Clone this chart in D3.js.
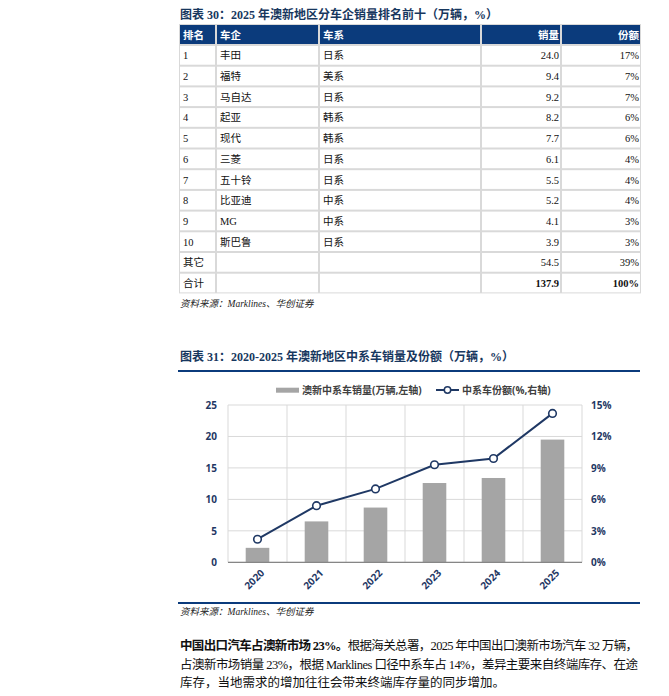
<!DOCTYPE html>
<html>
<head>
<meta charset="utf-8">
<script src="https://cdn.jsdelivr.net/npm/d3@7"></script>
<style>
  body { margin: 0; background: #fff; }
  svg { display: block; }
  .serif { font-family: "Liberation Serif", "Noto Sans CJK SC", serif; }
  .sans { font-family: "Open Sans", "Noto Sans CJK SC", sans-serif; }
</style>
</head>
<body>
<div id="page"></div>
<script>
// Table 30 data
var ranks = ["1", "2", "3", "4", "5", "6", "7", "8", "9", "10", "其它", "合计"];
var makers = ["丰田", "福特", "马自达", "起亚", "现代", "三菱", "五十铃", "比亚迪", "MG", "斯巴鲁", "", ""];
var origins = ["日系", "美系", "日系", "韩系", "韩系", "日系", "日系", "中系", "中系", "日系", "", ""];
var sales = ["24.0", "9.4", "9.2", "8.2", "7.7", "6.1", "5.5", "5.2", "4.1", "3.9", "54.5", "137.9"];
var shares = ["17%", "7%", "7%", "6%", "6%", "4%", "4%", "4%", "3%", "3%", "39%", "100%"];
var headers = ["排名", "车企", "车系", "销量", "份额"];

// Chart 31 data
var years = ["2020", "2021", "2022", "2023", "2024", "2025"];
var salesCn = [2.3, 6.5, 8.7, 12.6, 13.4, 19.5];   // 万辆, left axis
var shareCn = [2.2, 5.4, 7.0, 9.3, 9.9, 14.2];     // %, right axis
var leftTicks = [0, 5, 10, 15, 20, 25];
var rightTicks = [0, 3, 6, 9, 12, 15];

var paragraph = [
  { bold: "中国出口汽车占澳新市场 23%。", rest: "根据海关总署，2025 年中国出口澳新市场汽车 32 万辆，", justify: true },
  { bold: "", rest: "占澳新市场销量 23%，根据 Marklines 口径中系车占 14%，差异主要来自终端库存、在途", justify: true },
  { bold: "", rest: "库存，当地需求的增加往往会带来终端库存量的同步增加。", justify: false }
];

var navy = "#0b3b7c";
var axisBlue = "#1f3864";
var W = 669, H = 696;

var svg = d3.select("#page").append("svg")
    .attr("width", W)
    .attr("height", H);

svg.append("rect").attr("width", W).attr("height", H).attr("fill", "#fff");

// ---------- Table ----------
svg.append("text")
    .attr("class", "serif")
    .attr("x", 180)
    .attr("y", 19)
    .attr("font-size", 12)
    .attr("font-weight", "bold")
    .attr("fill", "#17375e")
    .text("图表 30：2025 年澳新地区分车企销量排名前十（万辆，%）");

var colEdges = [179, 216, 319, 481, 561, 641];
var tableTop = 24, headH = 21, rowH = 20.7;
var nRows = ranks.length;
var tableBottom = tableTop + headH + nRows * rowH;

svg.append("rect")
    .attr("x", colEdges[0])
    .attr("y", tableTop)
    .attr("width", colEdges[5] - colEdges[0])
    .attr("height", tableBottom - tableTop)
    .attr("fill", "#d9d9d9");

var table = svg.append("g").attr("class", "serif");

// header row
headers.forEach(function(h, i) {
  table.append("rect")
      .attr("x", colEdges[i] + 1)
      .attr("y", tableTop + 1)
      .attr("width", colEdges[i + 1] - colEdges[i] - 2)
      .attr("height", headH - 2)
      .attr("fill", navy);
  var right = i >= 3;
  table.append("text")
      .attr("x", right ? colEdges[i + 1] - 2 : colEdges[i] + 4)
      .attr("y", tableTop + headH / 2 + 4)
      .attr("text-anchor", right ? "end" : "start")
      .attr("font-size", 10.5)
      .attr("font-weight", "bold")
      .attr("fill", "#fff")
      .text(h);
});

var cols = [ranks, makers, origins, sales, shares];
for (var r = 0; r < nRows; r++) {
  var y0 = tableTop + headH + r * rowH;
  cols.forEach(function(col, i) {
    table.append("rect")
        .attr("x", colEdges[i] + 1)
        .attr("y", y0 + 1)
        .attr("width", colEdges[i + 1] - colEdges[i] - 2)
        .attr("height", rowH - 2)
        .attr("fill", "#fff");
    var right = i >= 3;
    table.append("text")
        .attr("x", right ? colEdges[i + 1] - 2 : colEdges[i] + 4)
        .attr("y", y0 + rowH / 2 + 4)
        .attr("text-anchor", right ? "end" : "start")
        .attr("font-size", 10.5)
        .attr("font-weight", (r === nRows - 1 && right) ? "bold" : "normal")
        .attr("fill", "#111")
        .text(col[r]);
  });
}

svg.append("text")
    .attr("class", "serif")
    .attr("x", 180)
    .attr("y", 307)
    .attr("font-size", 9.5)
    .attr("font-style", "italic")
    .attr("fill", "#222")
    .text("资料来源：Marklines、华创证券");

// ---------- Chart ----------
svg.append("text")
    .attr("class", "serif")
    .attr("x", 180)
    .attr("y", 361)
    .attr("font-size", 12)
    .attr("font-weight", "bold")
    .attr("fill", "#17375e")
    .text("图表 31：2020-2025 年澳新地区中系车销量及份额（万辆，%）");

svg.append("line")
    .attr("x1", 178).attr("x2", 640)
    .attr("y1", 371).attr("y2", 371)
    .attr("stroke", navy).attr("stroke-width", 2);

var plot = { left: 228, right: 582, top: 405, bottom: 562.3 };

var x = d3.scaleBand()
    .domain(years)
    .range([plot.left, plot.right])
    .paddingInner(0.6)
    .paddingOuter(0.3);

var yL = d3.scaleLinear().domain([0, 25]).range([plot.bottom, plot.top]);
var yR = d3.scaleLinear().domain([0, 15]).range([plot.bottom, plot.top]);

var chart = svg.append("g");

// horizontal gridlines
chart.selectAll(".hgrid")
    .data(leftTicks)
  .enter().append("line")
    .attr("class", "hgrid")
    .attr("x1", plot.left).attr("x2", plot.right)
    .attr("y1", function(d) { return yL(d); })
    .attr("y2", function(d) { return yL(d); })
    .attr("stroke", "#d9d9d9").attr("stroke-width", 1);

// vertical gridlines at category boundaries
var bounds = years.map(function(d) { return x(d) - x.step() * 0.3; }).concat([plot.right]);
chart.selectAll(".vgrid")
    .data(bounds)
  .enter().append("line")
    .attr("class", "vgrid")
    .attr("x1", function(d) { return d; })
    .attr("x2", function(d) { return d; })
    .attr("y1", plot.top).attr("y2", plot.bottom)
    .attr("stroke", "#d9d9d9").attr("stroke-width", 1);

// bars
chart.selectAll(".bar")
    .data(years)
  .enter().append("rect")
    .attr("class", "bar")
    .attr("x", function(d) { return x(d); })
    .attr("width", x.bandwidth())
    .attr("y", function(d, i) { return yL(salesCn[i]); })
    .attr("height", function(d, i) { return plot.bottom - yL(salesCn[i]); })
    .attr("fill", "#a5a5a5");

// x axis line
chart.append("line")
    .attr("x1", plot.left).attr("x2", plot.right)
    .attr("y1", plot.bottom).attr("y2", plot.bottom)
    .attr("stroke", "#868686").attr("stroke-width", 1.2);

// share line
var line = d3.line()
    .x(function(d, i) { return x(years[i]) + x.bandwidth() / 2; })
    .y(function(d) { return yR(d); });

chart.append("path")
    .datum(shareCn)
    .attr("d", line)
    .attr("fill", "none")
    .attr("stroke", "#1f3864")
    .attr("stroke-width", 2);

chart.selectAll(".pt")
    .data(shareCn)
  .enter().append("circle")
    .attr("class", "pt")
    .attr("cx", function(d, i) { return x(years[i]) + x.bandwidth() / 2; })
    .attr("cy", function(d) { return yR(d); })
    .attr("r", 3.8)
    .attr("fill", "#fff")
    .attr("stroke", "#1f3864")
    .attr("stroke-width", 1.6);

// axes
var leftAxis = svg.append("g")
    .attr("class", "sans")
    .attr("transform", "translate(" + plot.left + ",0)")
    .call(d3.axisLeft(yL).tickValues(leftTicks).tickSize(0).tickPadding(11));

var rightAxis = svg.append("g")
    .attr("class", "sans")
    .attr("transform", "translate(" + plot.right + ",0)")
    .call(d3.axisRight(yR).tickValues(rightTicks).tickSize(0).tickPadding(9)
      .tickFormat(function(d) { return d + "%"; }));

[leftAxis, rightAxis].forEach(function(g) {
  g.select(".domain").remove();
  g.selectAll("text")
      .attr("font-size", 10)
      .attr("font-weight", "bold")
      .attr("fill", axisBlue)
      .style("font-family", "'Open Sans', sans-serif");
});

svg.append("g")
    .attr("class", "sans")
    .selectAll(".xlab")
    .data(years)
  .enter().append("text")
    .attr("class", "xlab")
    .attr("transform", function(d) {
      return "translate(" + (x(d) + x.bandwidth() / 2 + 5) + "," + (plot.bottom + 9) + ") rotate(-45)";
    })
    .attr("text-anchor", "end")
    .attr("dy", "0.35em")
    .attr("font-size", 10)
    .attr("font-weight", "bold")
    .attr("fill", axisBlue)
    .text(function(d) { return d; });

// legend
var legend = svg.append("g").attr("class", "sans");
legend.append("rect")
    .attr("x", 276).attr("y", 387.7)
    .attr("width", 23).attr("height", 5)
    .attr("fill", "#a5a5a5");
legend.append("text")
    .attr("x", 302).attr("y", 394)
    .attr("font-size", 10).attr("font-weight", "bold")
    .attr("fill", "#404040")
    .text("澳新中系车销量(万辆,左轴)");
legend.append("line")
    .attr("x1", 436).attr("x2", 459)
    .attr("y1", 390).attr("y2", 390)
    .attr("stroke", "#1f3864").attr("stroke-width", 2);
legend.append("circle")
    .attr("cx", 447.5).attr("cy", 390).attr("r", 3.2)
    .attr("fill", "#fff").attr("stroke", "#1f3864").attr("stroke-width", 1.5);
legend.append("text")
    .attr("x", 462).attr("y", 394)
    .attr("font-size", 10).attr("font-weight", "bold")
    .attr("fill", "#404040")
    .text("中系车份额(%,右轴)");

// bottom rule and source
svg.append("line")
    .attr("x1", 178).attr("x2", 640)
    .attr("y1", 603).attr("y2", 603)
    .attr("stroke", navy).attr("stroke-width", 2);

svg.append("text")
    .attr("class", "serif")
    .attr("x", 180)
    .attr("y", 615)
    .attr("font-size", 9.5)
    .attr("font-style", "italic")
    .attr("fill", "#222")
    .text("资料来源：Marklines、华创证券");

// paragraph
var para = svg.append("g").attr("class", "serif");
paragraph.forEach(function(p, i) {
  var t = para.append("text")
      .attr("x", 180)
      .attr("y", 650 + i * 18.7)
      .attr("font-size", 12.5)
      .attr("fill", "#111");
  if (p.justify) t.attr("textLength", 458).attr("lengthAdjust", "spacing");
  if (p.bold) t.append("tspan").attr("font-weight", "bold").text(p.bold);
  t.append("tspan").text(p.rest);
});
</script>
</body>
</html>
